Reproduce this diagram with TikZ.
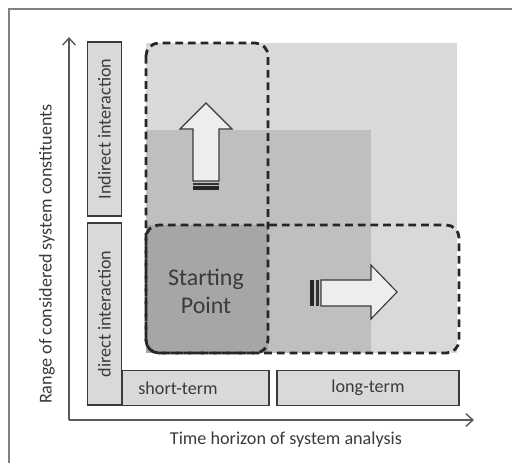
\documentclass[tikz,border=0pt]{standalone}
\usepackage{fontspec}
\setmainfont{Carlito}
\usepackage{tikz}
\usetikzlibrary{arrows,arrows.meta,calc,positioning}
\definecolor{darktext}{HTML}{3A3A3A}
\definecolor{lightfill}{HTML}{D9D9D9}
\definecolor{midfill}{HTML}{BFBFBF}
\definecolor{darkfill}{HTML}{A6A6A6}
\tikzset{%
	labelbox/.style  = {draw=darktext, line width=0.9pt, fill=lightfill, rectangle, minimum height=0.86cm, inner sep=0pt, text=darktext, font=\fontsize{12.9}{15}\selectfont},
	labeltext/.style = {text=darktext, font=\fontsize{12.9}{15}\selectfont, inner sep=0pt},
	region/.style    = {draw=black!85, line width=2pt, dash pattern=on 5.5pt off 3.5pt, rounded corners=0.32cm},
	blockarrow/.style= {draw=darktext, line width=0.8pt, fill=white!93!black},
	axis/.style      = {draw=black!65, line width=1pt, -{Straight Barb[length=5pt,width=9pt]}},
}
\begin{document}
\begin{tikzpicture}[x=0.025cm,y=-0.025cm]
	\useasboundingbox (0,0) rectangle (512,463);
	\draw[black!50, line width=1pt] (9,463) -- (9,9) -- (512,9);  % frame
	
	% shaded areas
	\fill[lightfill] (146,43) rectangle (457,353);
	\fill[midfill] (146,130) rectangle (371,353);
	\fill[darkfill] (146,225) rectangle (268,353);
	
	% block arrows
	\draw[blockarrow] (193,181) -- (193,129) -- (180,129) -- (206,103) -- (232,129) -- (219,129) -- (219,181) -- cycle;
	\fill[black!80] (193,182.5) rectangle (219,184.5);
	\fill[black!85] (193,186) rectangle (219,190);
	\draw[blockarrow] (321,280) -- (371,280) -- (371,265) -- (397,292) -- (371,319) -- (371,306) -- (321,306) -- cycle;
	\fill[black!85] (310,280) rectangle (314,306);
	\fill[black!80] (316,280) rectangle (318.5,306);
	
	% dashed regions
	\draw[region] (146,43) rectangle (268,353);
	\draw[region] (146,225) rectangle (459,353);
	\node[text=darktext, font=\fontsize{17}{20}\selectfont, align=center] (start) at (206,291) {Starting\\Point};
	
	% category boxes
	\node[labelbox, rotate=90, minimum width=4.35cm] (indirect) at (104.5,129) {Indirect interaction};
	\node[labelbox, minimum width=3.675cm] (short) at (195.5,388) {};
	\node[labeltext] (shortlbl) at (178,388) {short-term};
	\node[labelbox, rotate=90, minimum width=4.55cm] (direct) at (104.5,314) {direct interaction};
	\node[labelbox, minimum width=4.55cm] (long) at (368,388) {long-term};
	
	% axes
	\coordinate (origin) at (69,420);
	\coordinate (ytop) at (69,37);
	\coordinate (xend) at (474,420);
	\draw[axis] (origin) -- (ytop);
	\draw[axis] (origin) -- (xend);
	\node[labeltext] (xlabel) at (286,440) {Time horizon of system analysis};
	\node[labeltext, rotate=90] (ylabel) at (47,254) {Range of considered system constituents};
\end{tikzpicture}
\end{document}
